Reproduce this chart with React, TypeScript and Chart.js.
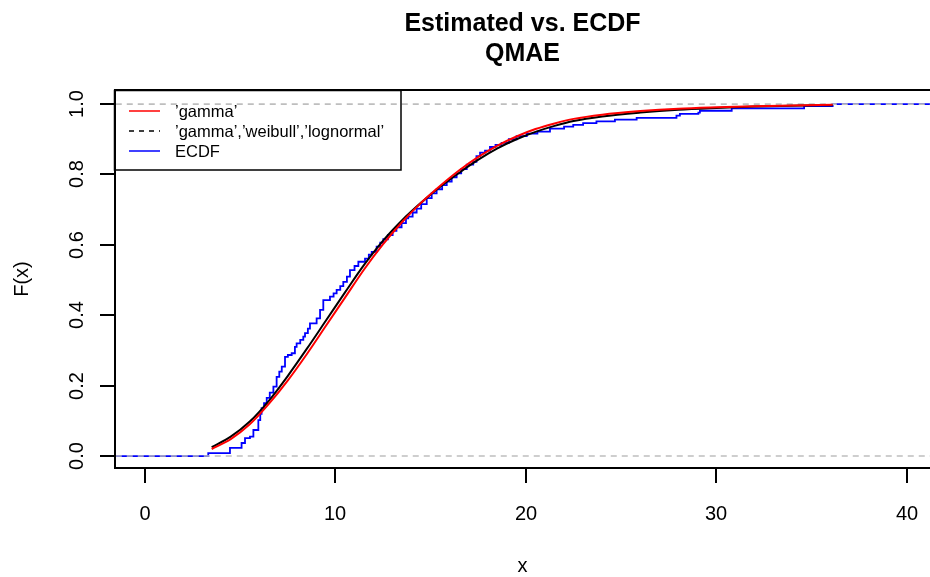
import React, { useEffect, useRef } from "react";
import { Chart, registerables } from "chart.js";

Chart.register(...registerables);

// ---- data ----
const curveX = [3.5, 4.5, 5.5, 6.5, 7.5, 8.5, 9.5, 10.5, 11.5, 12.5, 13.5, 14.5, 15.5, 16.5, 17.5, 18.5, 19.5, 20.5, 21.5, 22.5, 24, 26, 28, 30, 32, 34, 36.1];
const gammaY = [0.020, 0.048, 0.090, 0.148, 0.215, 0.290, 0.370, 0.450, 0.530, 0.602, 0.665, 0.720, 0.768, 0.812, 0.850, 0.882, 0.908, 0.929, 0.945, 0.958, 0.970, 0.980, 0.987, 0.991, 0.994, 0.996, 0.998];
const mixY = [0.025, 0.055, 0.098, 0.157, 0.228, 0.305, 0.385, 0.465, 0.543, 0.612, 0.670, 0.720, 0.765, 0.805, 0.842, 0.874, 0.900, 0.921, 0.938, 0.952, 0.965, 0.976, 0.984, 0.989, 0.993, 0.995, 0.997];

const ecdfX = [-5, 3.32, 4.46, 5.07, 5.25, 5.51, 5.69, 5.95, 6.05, 6.12, 6.25, 6.39, 6.55, 6.74, 6.91, 7.05, 7.18, 7.35, 7.5, 7.7, 7.87, 7.96, 8.15, 8.31, 8.4, 8.55, 8.66, 9.01, 9.19, 9.36, 9.71, 9.9, 10.06, 10.25, 10.41, 10.6, 10.76, 11.0, 11.2, 11.55, 11.75, 11.9, 12.16, 12.35, 12.51, 12.75, 13.0, 13.2, 13.47, 13.7, 13.82, 14.05, 14.26, 14.5, 14.79, 15.05, 15.31, 15.6, 15.84, 16.1, 16.36, 16.6, 16.89, 17.23, 17.4, 17.59, 17.85, 18.11, 18.4, 18.72, 19.1, 19.51, 20.04, 20.6, 21.26, 22.0, 22.48, 23.0, 23.7, 24.67, 25.81, 27.9, 28.08, 29.05, 29.13, 30.8, 34.6, 36.1, 50];
const ecdfY = [0, 0.008, 0.023, 0.037, 0.051, 0.055, 0.074, 0.102, 0.12, 0.136, 0.15, 0.165, 0.18, 0.197, 0.225, 0.24, 0.254, 0.282, 0.287, 0.292, 0.31, 0.32, 0.33, 0.339, 0.349, 0.362, 0.377, 0.391, 0.415, 0.443, 0.453, 0.462, 0.472, 0.483, 0.495, 0.51, 0.528, 0.54, 0.552, 0.561, 0.572, 0.58, 0.595, 0.606, 0.616, 0.628, 0.64, 0.65, 0.662, 0.675, 0.68, 0.692, 0.703, 0.716, 0.733, 0.746, 0.758, 0.77, 0.78, 0.792, 0.803, 0.815, 0.828, 0.836, 0.852, 0.862, 0.868, 0.878, 0.884, 0.89, 0.9, 0.909, 0.916, 0.922, 0.93, 0.936, 0.941, 0.946, 0.951, 0.956, 0.961, 0.967, 0.972, 0.976, 0.981, 0.988, 0.994, 1.0, 1.0];

const refLevels = [0, 1];
const xTicks = [0, 10, 20, 30, 40];
const yTicks = [0, 0.2, 0.4, 0.6, 0.8, 1.0];
const yTickLabels = ["0.0", "0.2", "0.4", "0.6", "0.8", "1.0"];
const legendLabels = ["\u2019gamma\u2019", "\u2019gamma\u2019,\u2019weibull\u2019,\u2019lognormal\u2019", "ECDF"];
const legendColors = ["#ff0000", "#000000", "#0000ff"];
const titleLines = ["Estimated vs. ECDF", "QMAE"];

const FONT = "'Liberation Sans', Arial, Helvetica, sans-serif";

const decorPlugin = {
  id: "decor",
  afterDraw(chart: any) {
    const ctx = chart.ctx as CanvasRenderingContext2D;
    const { left, right, top, bottom } = chart.chartArea;
    const xs = chart.scales.x;
    const ys = chart.scales.y;
    ctx.save();
    ctx.strokeStyle = "#000";
    ctx.fillStyle = "#000";
    ctx.lineWidth = 2;
    // frame (left, top, bottom)
    ctx.beginPath();
    ctx.moveTo(right + 5, top);
    ctx.lineTo(left, top);
    ctx.lineTo(left, bottom);
    ctx.lineTo(right + 5, bottom);
    ctx.stroke();
    // x ticks
    ctx.font = `20px ${FONT}`;
    ctx.textAlign = "center";
    ctx.textBaseline = "alphabetic";
    xTicks.forEach((v) => {
      const px = Math.round(xs.getPixelForValue(v));
      ctx.beginPath();
      ctx.moveTo(px, bottom);
      ctx.lineTo(px, bottom + 15);
      ctx.stroke();
      ctx.fillText(String(v), px, 520);
    });
    // y ticks
    yTicks.forEach((v, i) => {
      const py = Math.round(ys.getPixelForValue(v));
      ctx.beginPath();
      ctx.moveTo(left, py);
      ctx.lineTo(left - 15, py);
      ctx.stroke();
      ctx.save();
      ctx.translate(83, py);
      ctx.rotate(-Math.PI / 2);
      ctx.fillText(yTickLabels[i], 0, 0);
      ctx.restore();
    });
    // axis labels
    ctx.fillText("x", (left + right) / 2, 572);
    ctx.save();
    ctx.translate(28, (top + bottom) / 2);
    ctx.rotate(-Math.PI / 2);
    ctx.fillText("F(x)", 0, 0);
    ctx.restore();
    // titles
    ctx.font = `bold 25px ${FONT}`;
    ctx.fillText(titleLines[0], (left + right) / 2, 31);
    ctx.fillText(titleLines[1], (left + right) / 2, 61);
    // legend
    ctx.lineWidth = 1.5;
    ctx.strokeRect(114.5, 90.5, 286.5, 79.5);
    ctx.font = `16.5px ${FONT}`;
    ctx.textAlign = "left";
    ctx.textBaseline = "middle";
    const rows = [111, 131, 151];
    legendLabels.forEach((lab, i) => {
      ctx.strokeStyle = legendColors[i];
      ctx.setLineDash(i === 1 ? [5, 5] : []);
      ctx.beginPath();
      ctx.moveTo(129, rows[i]);
      ctx.lineTo(160, rows[i]);
      ctx.stroke();
      ctx.setLineDash([]);
      ctx.fillStyle = "#000";
      ctx.fillText(lab, 175, rows[i] + 1);
    });
    ctx.restore();
  },
};

export default function App() {
  const ref = useRef<HTMLCanvasElement | null>(null);
  useEffect(() => {
    if (!ref.current) return;
    const pts = (xa: number[], ya: number[]) => xa.map((x, i) => ({ x, y: ya[i] }));
    const chart = new Chart(ref.current, {
      type: "line",
      data: {
        datasets: [
          {
            label: "ECDF",
            data: pts(ecdfX, ecdfY),
            borderColor: "#0000ff",
            borderWidth: 1.8,
            pointRadius: 0,
            stepped: true,
            order: 4,
          },
          ...refLevels.map((lv) => ({
            label: "ref" + lv,
            data: [{ x: -5, y: lv }, { x: 50, y: lv }],
            borderColor: "#bebebe",
            borderWidth: 1.6,
            borderDash: [6, 5],
            pointRadius: 0,
            order: 3,
          })),
          {
            label: "mix",
            data: pts(curveX, mixY),
            borderColor: "#000000",
            borderWidth: 2,
            pointRadius: 0,
            cubicInterpolationMode: "monotone",
            order: 2,
          },
          {
            label: "gamma",
            data: pts(curveX, gammaY),
            borderColor: "#ff0000",
            borderWidth: 2,
            pointRadius: 0,
            cubicInterpolationMode: "monotone",
            order: 1,
          },
        ] as any,
      },
      options: {
        animation: false,
        responsive: false,
        devicePixelRatio: 1,
        layout: { padding: { left: 115, right: 0, top: 90, bottom: 109 } },
        scales: {
          x: { type: "linear", min: -1.575, max: 41.21, display: false },
          y: { type: "linear", min: -0.034, max: 1.04, display: false },
        },
        plugins: { legend: { display: false }, tooltip: { enabled: false }, title: { display: false } },
        events: [],
      },
      plugins: [decorPlugin],
    });
    return () => chart.destroy();
  }, []);
  return (
    <div style={{ position: "absolute", left: 0, top: 0, width: 930, height: 577, background: "#fff" }}>
      <canvas ref={ref} width={930} height={577} style={{ width: 930, height: 577, display: "block" }} />
    </div>
  );
}
